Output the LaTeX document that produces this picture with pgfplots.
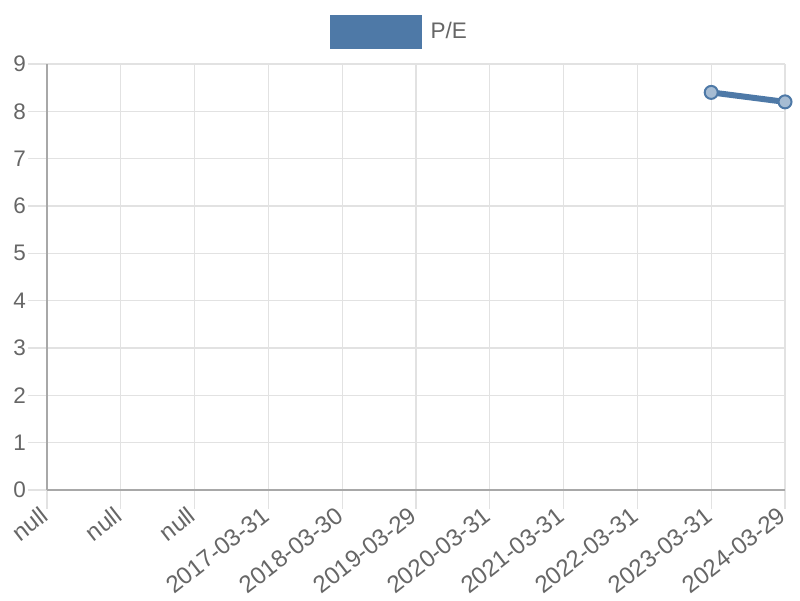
\documentclass[border=0pt]{standalone}
\usepackage{pgfplots}
\pgfplotsset{compat=1.18}
\usepackage{fontspec}
\setmainfont{Liberation Sans}
\definecolor{pecolor}{RGB}{78,121,167}
\definecolor{gridc}{RGB}{226,226,226}
\definecolor{axc}{RGB}{168,168,168}
\definecolor{txt}{RGB}{102,102,102}
\begin{document}
\begin{tikzpicture}
\useasboundingbox (-47pt,-110pt) rectangle (753pt,490pt);
\begin{axis}[
  at={(0pt,0pt)}, anchor=south west,
  scale only axis, width=738pt, height=426pt,
  xmin=0, xmax=10, ymin=0, ymax=9,
  xtick={0,...,10}, ytick={0,...,9},
  xticklabels={null,null,null,2017-03-31,2018-03-30,2019-03-29,2020-03-31,2021-03-31,2022-03-31,2023-03-31,2024-03-29},
  x tick label style={rotate=38, anchor=east, font=\fontsize{24}{26}\selectfont, text=txt, inner sep=0pt, yshift=-1pt, xshift=-4pt},
  y tick label style={font=\fontsize{22.5}{25}\selectfont, text=txt, inner sep=2pt},
  /pgf/number format/assume math mode=true,
  grid=major, major grid style={gridc, line width=1.2pt},
  tick align=outside, major tick length=19pt,
  tick style={gridc, line width=1.2pt},
  xtick pos=bottom, ytick pos=left,
  axis line style={axc, line width=1.5pt},
  axis x line*=bottom, axis y line*=left,
  clip=false,
  legend style={draw=none, at={(rel axis cs:0.476,1.0763)}, anchor=center, font=\fontsize{22.5}{25}\selectfont, text=txt, inner sep=0pt, column sep=9pt, nodes={inner sep=0pt}},
  legend image code/.code={\fill[pecolor] (0pt,-14pt) rectangle (86pt,14pt);},
]
\addplot[pecolor, line width=6pt, mark=*, mark size=6.5pt, mark options={line width=2pt, draw=pecolor, fill=pecolor!50!white}] coordinates {(9,8.40) (10,8.20)};
\addlegendentry{P/E}
\end{axis}
\end{tikzpicture}
\end{document}
